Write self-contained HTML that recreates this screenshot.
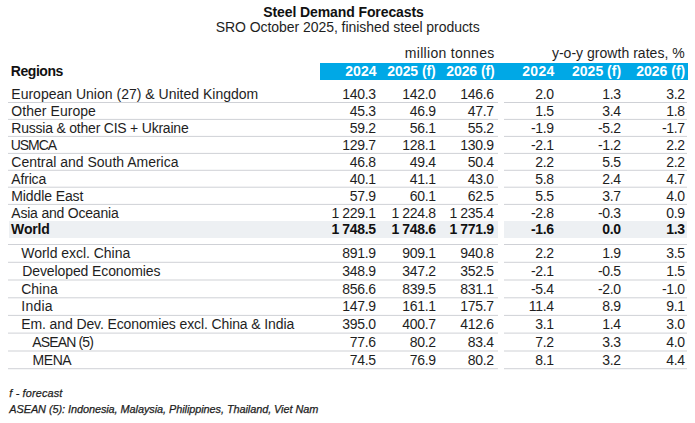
<!DOCTYPE html>
<html><head><meta charset="utf-8"><style>
html,body{margin:0;padding:0;background:#fff;}
body{width:695px;height:423px;position:relative;overflow:hidden;font-family:"Liberation Sans",sans-serif;color:#1e1e1e;}
.t{position:absolute;white-space:nowrap;font-size:14px;line-height:0;height:0;}
.b{font-weight:bold;color:#111;}
.w{color:#fff;}
.it{font-style:italic;font-size:10.9px;-webkit-text-stroke:0.25px #1e1e1e;}
.ln{position:absolute;height:1px;background:#cfd1d6;}
.bar{position:absolute;left:320px;top:63px;width:368px;height:17px;background:#00a8e6;}
.wbg{position:absolute;top:221px;height:17px;background:#edf0f3;}
</style></head><body>
<div class="wbg" style="left:9px;width:488.5px"></div><div class="wbg" style="left:504px;width:183px"></div>
<div class="bar"></div>
<div class="t b" style="left:263.30px;top:11.5px;letter-spacing:-0.101px">Steel Demand Forecasts</div>
<div class="t " style="left:215.70px;top:27px;letter-spacing:-0.054px">SRO October 2025, finished steel products</div>
<div class="t " style="left:404.80px;top:53px;letter-spacing:0.299px">million tonnes</div>
<div class="t " style="left:551.90px;top:53px;letter-spacing:0.027px">y-o-y growth rates, %</div>
<div class="t b" style="left:10.80px;top:71px;letter-spacing:-0.456px">Regions</div>
<div class="t b w" style="left:345.30px;top:71px;letter-spacing:0.015px">2024</div>
<div class="t b w" style="left:387.20px;top:71px;letter-spacing:-0.062px">2025 (f)</div>
<div class="t b w" style="left:446.20px;top:71px;letter-spacing:-0.062px">2026 (f)</div>
<div class="t b w" style="left:522.20px;top:71px;letter-spacing:0.315px">2024</div>
<div class="t b w" style="left:572.00px;top:71px;letter-spacing:0.010px">2025 (f)</div>
<div class="t b w" style="left:636.20px;top:71px;letter-spacing:0.010px">2026 (f)</div>
<div class="t " style="left:11.30px;top:94px;letter-spacing:0.006px">European Union (27) &amp; United Kingdom</div>
<div class="t " style="right:319.35px;top:94px;letter-spacing:-0.35px">140.3</div>
<div class="t " style="right:259.35px;top:94px;letter-spacing:-0.35px">142.0</div>
<div class="t " style="right:201.35px;top:94px;letter-spacing:-0.35px">146.6</div>
<div class="t " style="right:141.35px;top:94px;letter-spacing:-0.35px">2.0</div>
<div class="t " style="right:74.35px;top:94px;letter-spacing:-0.35px">1.3</div>
<div class="t " style="right:10.35px;top:94px;letter-spacing:-0.35px">3.2</div>
<div class="t " style="left:11.30px;top:111px;letter-spacing:0.049px">Other Europe</div>
<div class="t " style="right:319.35px;top:111px;letter-spacing:-0.35px">45.3</div>
<div class="t " style="right:259.35px;top:111px;letter-spacing:-0.35px">46.9</div>
<div class="t " style="right:201.35px;top:111px;letter-spacing:-0.35px">47.7</div>
<div class="t " style="right:141.35px;top:111px;letter-spacing:-0.35px">1.5</div>
<div class="t " style="right:74.35px;top:111px;letter-spacing:-0.35px">3.4</div>
<div class="t " style="right:10.35px;top:111px;letter-spacing:-0.35px">1.8</div>
<div class="t " style="left:11.30px;top:128px;letter-spacing:-0.217px">Russia &amp; other CIS + Ukraine</div>
<div class="t " style="right:319.35px;top:128px;letter-spacing:-0.35px">59.2</div>
<div class="t " style="right:259.35px;top:128px;letter-spacing:-0.35px">56.1</div>
<div class="t " style="right:201.35px;top:128px;letter-spacing:-0.35px">55.2</div>
<div class="t " style="right:141.35px;top:128px;letter-spacing:-0.35px">-1.9</div>
<div class="t " style="right:74.35px;top:128px;letter-spacing:-0.35px">-5.2</div>
<div class="t " style="right:10.35px;top:128px;letter-spacing:-0.35px">-1.7</div>
<div class="t " style="left:10.80px;top:145px;letter-spacing:-1.066px">USMCA</div>
<div class="t " style="right:319.35px;top:145px;letter-spacing:-0.35px">129.7</div>
<div class="t " style="right:259.35px;top:145px;letter-spacing:-0.35px">128.1</div>
<div class="t " style="right:201.35px;top:145px;letter-spacing:-0.35px">130.9</div>
<div class="t " style="right:141.35px;top:145px;letter-spacing:-0.35px">-2.1</div>
<div class="t " style="right:74.35px;top:145px;letter-spacing:-0.35px">-1.2</div>
<div class="t " style="right:10.35px;top:145px;letter-spacing:-0.35px">2.2</div>
<div class="t " style="left:11.30px;top:162px;letter-spacing:-0.005px">Central and South America</div>
<div class="t " style="right:319.35px;top:162px;letter-spacing:-0.35px">46.8</div>
<div class="t " style="right:259.35px;top:162px;letter-spacing:-0.35px">49.4</div>
<div class="t " style="right:201.35px;top:162px;letter-spacing:-0.35px">50.4</div>
<div class="t " style="right:141.35px;top:162px;letter-spacing:-0.35px">2.2</div>
<div class="t " style="right:74.35px;top:162px;letter-spacing:-0.35px">5.5</div>
<div class="t " style="right:10.35px;top:162px;letter-spacing:-0.35px">2.2</div>
<div class="t " style="left:11.30px;top:179px;letter-spacing:-0.179px">Africa</div>
<div class="t " style="right:319.35px;top:179px;letter-spacing:-0.35px">40.1</div>
<div class="t " style="right:259.35px;top:179px;letter-spacing:-0.35px">41.1</div>
<div class="t " style="right:201.35px;top:179px;letter-spacing:-0.35px">43.0</div>
<div class="t " style="right:141.35px;top:179px;letter-spacing:-0.35px">5.8</div>
<div class="t " style="right:74.35px;top:179px;letter-spacing:-0.35px">2.4</div>
<div class="t " style="right:10.35px;top:179px;letter-spacing:-0.35px">4.7</div>
<div class="t " style="left:11.30px;top:196px;letter-spacing:-0.106px">Middle East</div>
<div class="t " style="right:319.35px;top:196px;letter-spacing:-0.35px">57.9</div>
<div class="t " style="right:259.35px;top:196px;letter-spacing:-0.35px">60.1</div>
<div class="t " style="right:201.35px;top:196px;letter-spacing:-0.35px">62.5</div>
<div class="t " style="right:141.35px;top:196px;letter-spacing:-0.35px">5.5</div>
<div class="t " style="right:74.35px;top:196px;letter-spacing:-0.35px">3.7</div>
<div class="t " style="right:10.35px;top:196px;letter-spacing:-0.35px">4.0</div>
<div class="t " style="left:11.30px;top:213px;letter-spacing:-0.209px">Asia and Oceania</div>
<div class="t " style="right:319.35px;top:213px;letter-spacing:-0.35px">1 229.1</div>
<div class="t " style="right:259.35px;top:213px;letter-spacing:-0.35px">1 224.8</div>
<div class="t " style="right:201.35px;top:213px;letter-spacing:-0.35px">1 235.4</div>
<div class="t " style="right:141.35px;top:213px;letter-spacing:-0.35px">-2.8</div>
<div class="t " style="right:74.35px;top:213px;letter-spacing:-0.35px">-0.3</div>
<div class="t " style="right:10.35px;top:213px;letter-spacing:-0.35px">0.9</div>
<div class="t b" style="left:11.10px;top:229px;letter-spacing:-0.152px">World</div>
<div class="t b" style="right:319.35px;top:229px;letter-spacing:-0.35px">1 748.5</div>
<div class="t b" style="right:259.35px;top:229px;letter-spacing:-0.35px">1 748.6</div>
<div class="t b" style="right:201.35px;top:229px;letter-spacing:-0.35px">1 771.9</div>
<div class="t b" style="right:141.35px;top:229px;letter-spacing:-0.35px">-1.6</div>
<div class="t b" style="right:74.35px;top:229px;letter-spacing:-0.35px">0.0</div>
<div class="t b" style="right:10.35px;top:229px;letter-spacing:-0.35px">1.3</div>
<div class="t " style="left:21.30px;top:253.0px;letter-spacing:-0.035px">World excl. China</div>
<div class="t " style="right:319.35px;top:253.0px;letter-spacing:-0.35px">891.9</div>
<div class="t " style="right:259.35px;top:253.0px;letter-spacing:-0.35px">909.1</div>
<div class="t " style="right:201.35px;top:253.0px;letter-spacing:-0.35px">940.8</div>
<div class="t " style="right:141.35px;top:253.0px;letter-spacing:-0.35px">2.2</div>
<div class="t " style="right:74.35px;top:253.0px;letter-spacing:-0.35px">1.9</div>
<div class="t " style="right:10.35px;top:253.0px;letter-spacing:-0.35px">3.5</div>
<div class="t " style="left:22.30px;top:270.75px;letter-spacing:-0.111px">Developed Economies</div>
<div class="t " style="right:319.35px;top:270.75px;letter-spacing:-0.35px">348.9</div>
<div class="t " style="right:259.35px;top:270.75px;letter-spacing:-0.35px">347.2</div>
<div class="t " style="right:201.35px;top:270.75px;letter-spacing:-0.35px">352.5</div>
<div class="t " style="right:141.35px;top:270.75px;letter-spacing:-0.35px">-2.1</div>
<div class="t " style="right:74.35px;top:270.75px;letter-spacing:-0.35px">-0.5</div>
<div class="t " style="right:10.35px;top:270.75px;letter-spacing:-0.35px">1.5</div>
<div class="t " style="left:21.30px;top:288.5px;letter-spacing:-0.048px">China</div>
<div class="t " style="right:319.35px;top:288.5px;letter-spacing:-0.35px">856.6</div>
<div class="t " style="right:259.35px;top:288.5px;letter-spacing:-0.35px">839.5</div>
<div class="t " style="right:201.35px;top:288.5px;letter-spacing:-0.35px">831.1</div>
<div class="t " style="right:141.35px;top:288.5px;letter-spacing:-0.35px">-5.4</div>
<div class="t " style="right:74.35px;top:288.5px;letter-spacing:-0.35px">-2.0</div>
<div class="t " style="right:10.35px;top:288.5px;letter-spacing:-0.35px">-1.0</div>
<div class="t " style="left:21.30px;top:306.25px;letter-spacing:0.235px">India</div>
<div class="t " style="right:319.35px;top:306.25px;letter-spacing:-0.35px">147.9</div>
<div class="t " style="right:259.35px;top:306.25px;letter-spacing:-0.35px">161.1</div>
<div class="t " style="right:201.35px;top:306.25px;letter-spacing:-0.35px">175.7</div>
<div class="t " style="right:141.35px;top:306.25px;letter-spacing:-0.35px">11.4</div>
<div class="t " style="right:74.35px;top:306.25px;letter-spacing:-0.35px">8.9</div>
<div class="t " style="right:10.35px;top:306.25px;letter-spacing:-0.35px">9.1</div>
<div class="t " style="left:21.30px;top:324.0px;letter-spacing:-0.113px">Em. and Dev. Economies excl. China &amp; India</div>
<div class="t " style="right:319.35px;top:324.0px;letter-spacing:-0.35px">395.0</div>
<div class="t " style="right:259.35px;top:324.0px;letter-spacing:-0.35px">400.7</div>
<div class="t " style="right:201.35px;top:324.0px;letter-spacing:-0.35px">412.6</div>
<div class="t " style="right:141.35px;top:324.0px;letter-spacing:-0.35px">3.1</div>
<div class="t " style="right:74.35px;top:324.0px;letter-spacing:-0.35px">1.4</div>
<div class="t " style="right:10.35px;top:324.0px;letter-spacing:-0.35px">3.0</div>
<div class="t " style="left:32.30px;top:341.75px;letter-spacing:-0.859px">ASEAN (5)</div>
<div class="t " style="right:319.35px;top:341.75px;letter-spacing:-0.35px">77.6</div>
<div class="t " style="right:259.35px;top:341.75px;letter-spacing:-0.35px">80.2</div>
<div class="t " style="right:201.35px;top:341.75px;letter-spacing:-0.35px">83.4</div>
<div class="t " style="right:141.35px;top:341.75px;letter-spacing:-0.35px">7.2</div>
<div class="t " style="right:74.35px;top:341.75px;letter-spacing:-0.35px">3.3</div>
<div class="t " style="right:10.35px;top:341.75px;letter-spacing:-0.35px">4.0</div>
<div class="t " style="left:32.50px;top:359.5px;letter-spacing:-0.418px">MENA</div>
<div class="t " style="right:319.35px;top:359.5px;letter-spacing:-0.35px">74.5</div>
<div class="t " style="right:259.35px;top:359.5px;letter-spacing:-0.35px">76.9</div>
<div class="t " style="right:201.35px;top:359.5px;letter-spacing:-0.35px">80.2</div>
<div class="t " style="right:141.35px;top:359.5px;letter-spacing:-0.35px">8.1</div>
<div class="t " style="right:74.35px;top:359.5px;letter-spacing:-0.35px">3.2</div>
<div class="t " style="right:10.35px;top:359.5px;letter-spacing:-0.35px">4.4</div>
<div class="t it" style="left:9.30px;top:393px;letter-spacing:0.141px">f - forecast</div>
<div class="t it" style="left:9.30px;top:409px;letter-spacing:-0.061px">ASEAN (5): Indonesia, Malaysia, Philippines, Thailand, Viet Nam</div>
<div class="ln" style="top:102px;left:8px;width:489.5px;opacity:1.00"></div>
<div class="ln" style="top:102px;left:504px;width:183px;opacity:1.00"></div>
<div class="ln" style="top:118px;left:8px;width:489.5px;opacity:0.10"></div>
<div class="ln" style="top:118px;left:504px;width:183px;opacity:0.10"></div>
<div class="ln" style="top:119px;left:8px;width:489.5px;opacity:0.90"></div>
<div class="ln" style="top:119px;left:504px;width:183px;opacity:0.90"></div>
<div class="ln" style="top:135px;left:8px;width:489.5px;opacity:0.10"></div>
<div class="ln" style="top:135px;left:504px;width:183px;opacity:0.10"></div>
<div class="ln" style="top:136px;left:8px;width:489.5px;opacity:0.90"></div>
<div class="ln" style="top:136px;left:504px;width:183px;opacity:0.90"></div>
<div class="ln" style="top:152px;left:8px;width:489.5px;opacity:0.10"></div>
<div class="ln" style="top:152px;left:504px;width:183px;opacity:0.10"></div>
<div class="ln" style="top:153px;left:8px;width:489.5px;opacity:0.90"></div>
<div class="ln" style="top:153px;left:504px;width:183px;opacity:0.90"></div>
<div class="ln" style="top:169px;left:8px;width:489.5px;opacity:0.20"></div>
<div class="ln" style="top:169px;left:504px;width:183px;opacity:0.20"></div>
<div class="ln" style="top:170px;left:8px;width:489.5px;opacity:0.80"></div>
<div class="ln" style="top:170px;left:504px;width:183px;opacity:0.80"></div>
<div class="ln" style="top:186px;left:8px;width:489.5px;opacity:0.30"></div>
<div class="ln" style="top:186px;left:504px;width:183px;opacity:0.30"></div>
<div class="ln" style="top:187px;left:8px;width:489.5px;opacity:0.70"></div>
<div class="ln" style="top:187px;left:504px;width:183px;opacity:0.70"></div>
<div class="ln" style="top:203px;left:8px;width:489.5px;opacity:0.10"></div>
<div class="ln" style="top:203px;left:504px;width:183px;opacity:0.10"></div>
<div class="ln" style="top:204px;left:8px;width:489.5px;opacity:0.90"></div>
<div class="ln" style="top:204px;left:504px;width:183px;opacity:0.90"></div>
<div class="ln" style="top:244px;left:8px;width:489.5px;opacity:1.00"></div>
<div class="ln" style="top:244px;left:504px;width:183px;opacity:1.00"></div>
<div class="ln" style="top:261px;left:8px;width:489.5px;opacity:0.20"></div>
<div class="ln" style="top:261px;left:504px;width:183px;opacity:0.20"></div>
<div class="ln" style="top:262px;left:8px;width:489.5px;opacity:0.80"></div>
<div class="ln" style="top:262px;left:504px;width:183px;opacity:0.80"></div>
<div class="ln" style="top:279px;left:8px;width:489.5px;opacity:0.50"></div>
<div class="ln" style="top:279px;left:504px;width:183px;opacity:0.50"></div>
<div class="ln" style="top:280px;left:8px;width:489.5px;opacity:0.50"></div>
<div class="ln" style="top:280px;left:504px;width:183px;opacity:0.50"></div>
<div class="ln" style="top:297px;left:8px;width:489.5px;opacity:0.70"></div>
<div class="ln" style="top:297px;left:504px;width:183px;opacity:0.70"></div>
<div class="ln" style="top:298px;left:8px;width:489.5px;opacity:0.30"></div>
<div class="ln" style="top:298px;left:504px;width:183px;opacity:0.30"></div>
<div class="ln" style="top:314px;left:8px;width:489.5px;opacity:0.10"></div>
<div class="ln" style="top:314px;left:504px;width:183px;opacity:0.10"></div>
<div class="ln" style="top:315px;left:8px;width:489.5px;opacity:0.90"></div>
<div class="ln" style="top:315px;left:504px;width:183px;opacity:0.90"></div>
<div class="ln" style="top:332px;left:8px;width:489.5px;opacity:0.40"></div>
<div class="ln" style="top:332px;left:504px;width:183px;opacity:0.40"></div>
<div class="ln" style="top:333px;left:8px;width:489.5px;opacity:0.60"></div>
<div class="ln" style="top:333px;left:504px;width:183px;opacity:0.60"></div>
<div class="ln" style="top:350px;left:8px;width:489.5px;opacity:0.50"></div>
<div class="ln" style="top:350px;left:504px;width:183px;opacity:0.50"></div>
<div class="ln" style="top:351px;left:8px;width:489.5px;opacity:0.50"></div>
<div class="ln" style="top:351px;left:504px;width:183px;opacity:0.50"></div>
<div class="ln" style="top:368px;left:8px;width:489.5px;opacity:0.80"></div>
<div class="ln" style="top:368px;left:504px;width:183px;opacity:0.80"></div>
<div class="ln" style="top:369px;left:8px;width:489.5px;opacity:0.20"></div>
<div class="ln" style="top:369px;left:504px;width:183px;opacity:0.20"></div>
</body></html>
